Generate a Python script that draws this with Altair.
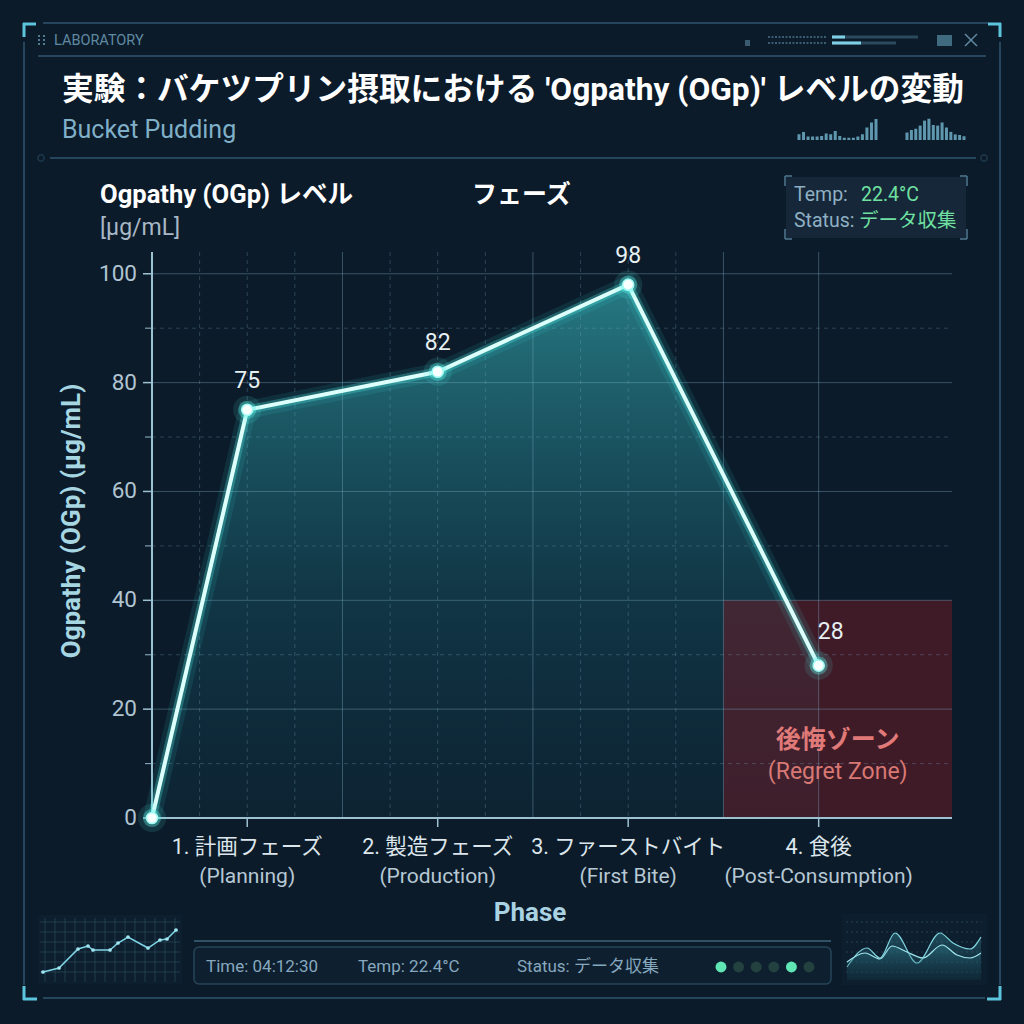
import altair as alt
import pandas as pd

FONT = "Roboto, 'Noto Sans CJK JP', 'Noto Sans', sans-serif"

# ---------------- data ----------------
phase_pos = [0, 0.5, 1.5, 2.5, 3.5]
levels = [0, 75, 82, 98, 28]
value_labels = ["", "75", "82", "98", "28"]

tick_pos = [0.5, 1.5, 2.5, 3.5]
phase_ja = ["1. 計画フェーズ", "2. 製造フェーズ", "3. ファーストバイト", "4. 食後"]
phase_en = ["(Planning)", "(Production)", "(First Bite)", "(Post-Consumption)"]

y_major = [0, 20, 40, 60, 80, 100]
y_minor = [10, 30, 50, 70, 90]
x_major = [1, 2, 3, 3.5]
x_minor = [0.25, 0.5, 0.75, 1.25, 1.5, 1.75, 2.25, 2.5, 2.75]

regret_x = [3, 4.2]
regret_y = [0, 40]

# decorative mini charts
spark_bl_x = [0, 16, 35, 45, 50, 67, 75, 85, 105, 117, 124, 133]
spark_bl_y = [10, 14, 33, 36, 32, 32, 39, 45, 34, 42, 43, 52]
spark_ra_x = [0, 20, 33, 48, 70, 93, 106, 123, 134]
spark_ra_y = [13, 32, 22, 47, 17, 47, 37, 31, 43]
spark_rb_x = [0, 18, 33, 45, 60, 76, 95, 110, 123, 134]
spark_rb_y = [18, 27, 21, 34, 28, 22, 35, 25, 22, 27]
bars1 = [23, 32, 14, 14, 14, 16, 26, 23, 36, 16, 9, 9, 9, 14, 23, 50, 70, 84]
bars2 = [12, 16, 18, 23, 31, 34, 24, 23, 28, 20, 13, 9, 8, 6]
status_dots = [1, 0, 0, 0, 1, 0]

# ---------------- geometry ----------------
X0, Y0 = 152, 252
W, H = 800, 566
XMAX, YMAX = 4.2, 104
XS = alt.Scale(domain=[0, XMAX], nice=False, zero=False, padding=0)
YS = alt.Scale(domain=[0, YMAX], nice=False, zero=False, padding=0)

EMPTY = alt.Data(values=[{}])
AXC = "#9cc2d2"


def to_x(px_expr):
    return f"(({px_expr}) - {X0}) * {XMAX} / {W}"


def to_y(py_expr):
    return f"({Y0 + H} - ({py_expr})) * {YMAX} / {H}"


def prule(x, y, x2=None, y2=None, color="#24465c", width=1, dash=None, opacity=1.0):
    enc = dict(x=alt.value(x - X0), y=alt.value(y - Y0))
    enc["x2"] = alt.value((x2 if x2 is not None else x) - X0)
    enc["y2"] = alt.value((y2 if y2 is not None else y) - Y0)
    kw = dict(color=color, strokeWidth=width, opacity=opacity)
    if dash:
        kw["strokeDash"] = dash
    return alt.Chart(EMPTY).mark_rule(**kw).encode(**enc)


def prect(x, y, x2, y2, fill, opacity=1.0, stroke=None, sw=1, radius=0):
    kw = dict(fill=fill, opacity=opacity, cornerRadius=radius)
    if stroke:
        kw["stroke"] = stroke
        kw["strokeWidth"] = sw
    return alt.Chart(EMPTY).mark_rect(**kw).encode(
        x=alt.value(x - X0), y=alt.value(y - Y0),
        x2=alt.value(x2 - X0), y2=alt.value(y2 - Y0))


def ptext(t, x, y, size, color, weight="normal", align="left", baseline="middle",
          font=FONT, angle=0):
    return alt.Chart(EMPTY).mark_text(
        text=t, fontSize=size, color=color, fontWeight=weight, align=align,
        baseline=baseline, font=font, angle=angle).encode(
        x=alt.value(x - X0), y=alt.value(y - Y0))


df = pd.DataFrame({"pos": phase_pos, "level": levels, "label": value_labels})
df_ticks = pd.DataFrame({"pos": tick_pos, "ja": phase_ja, "en": phase_en})
df_ymaj = pd.DataFrame({"v": y_major})
df_ymin = pd.DataFrame({"v": y_minor})

XE = dict(scale=XS, axis=None)
YE = dict(scale=YS, axis=None)

# ---------------- main plot ----------------
area = alt.Chart(df).mark_area(
    color=alt.Gradient(
        gradient="linear",
        stops=[alt.GradientStop(color="rgba(44,142,150,0.82)", offset=0),
               alt.GradientStop(color="rgba(22,82,98,0.48)", offset=0.6),
               alt.GradientStop(color="rgba(14,50,66,0.35)", offset=1)],
        x1=1, x2=1, y1=0, y2=1),
).encode(x=alt.X("pos:Q", **XE), y=alt.Y("level:Q", **YE))

regret = alt.Chart(pd.DataFrame({"x": [regret_x[0]], "x2": [regret_x[1]],
                                 "y": [regret_y[0]], "y2": [regret_y[1]]})).mark_rect(
    color="#6a1c26", opacity=0.55
).encode(x=alt.X("x:Q", **XE), x2="x2:Q", y=alt.Y("y:Q", **YE), y2="y2:Q")

grid_hmaj = alt.Chart(df_ymaj).mark_rule(color="#7fb0c8", opacity=0.38, strokeWidth=1).encode(
    y=alt.Y("v:Q", **YE), x=alt.value(0), x2=alt.value(W))
grid_hmin = alt.Chart(df_ymin).mark_rule(
    color="#7fb0c8", opacity=0.28, strokeWidth=1, strokeDash=[4, 4]
).encode(y=alt.Y("v:Q", **YE), x=alt.value(0), x2=alt.value(W))
grid_vmaj = alt.Chart(pd.DataFrame({"v": x_major})).mark_rule(
    color="#7fb0c8", opacity=0.38, strokeWidth=1
).encode(x=alt.X("v:Q", **XE), y=alt.value(0), y2=alt.value(H))
grid_vmin = alt.Chart(pd.DataFrame({"v": x_minor})).mark_rule(
    color="#7fb0c8", opacity=0.28, strokeWidth=1, strokeDash=[4, 4]
).encode(x=alt.X("v:Q", **XE), y=alt.value(0), y2=alt.value(H))

# axes (domain lines, ticks, labels) drawn from the same scales
y_domain = alt.Chart(EMPTY).mark_rule(color=AXC, strokeWidth=2).encode(
    x=alt.value(0), y=alt.value(0), y2=alt.value(H))
x_domain = alt.Chart(EMPTY).mark_rule(color=AXC, strokeWidth=2).encode(
    y=alt.value(H), x=alt.value(0), x2=alt.value(W))
y_ticks = alt.Chart(df_ymaj).mark_rule(color=AXC, strokeWidth=1.5).encode(
    y=alt.Y("v:Q", **YE), x=alt.value(-9), x2=alt.value(0))
y_ticks_min = alt.Chart(df_ymin).mark_rule(color=AXC, strokeWidth=1.2, opacity=0.8).encode(
    y=alt.Y("v:Q", **YE), x=alt.value(-7), x2=alt.value(0))
y_labels = alt.Chart(df_ymaj).mark_text(
    color="#b0c4d2", fontSize=22.5, font=FONT, align="right", baseline="middle"
).encode(y=alt.Y("v:Q", **YE), x=alt.value(-15), text="v:Q")
x_ticks = alt.Chart(df_ticks).mark_rule(color=AXC, strokeWidth=1.5).encode(
    x=alt.X("pos:Q", **XE), y=alt.value(H), y2=alt.value(H + 9))

regret_t1 = alt.Chart(pd.DataFrame({"x": [3.6], "y": [14.3], "t": ["後悔ゾーン"]})).mark_text(
    fontSize=25, fontWeight="bold", color="#e07a78", font=FONT
).encode(x=alt.X("x:Q", **XE), y=alt.Y("y:Q", **YE), text="t:N")
regret_t2 = alt.Chart(pd.DataFrame({"x": [3.6], "y": [8.4], "t": ["(Regret Zone)"]})).mark_text(
    fontSize=23, color="#d87874", font=FONT
).encode(x=alt.X("x:Q", **XE), y=alt.Y("y:Q", **YE), text="t:N")

enc_xy = dict(x=alt.X("pos:Q", **XE), y=alt.Y("level:Q", **YE))
glow1 = alt.Chart(df).mark_line(color="#3fe6de", strokeWidth=18, opacity=0.10).encode(**enc_xy)
glow2 = alt.Chart(df).mark_line(color="#4ff0e6", strokeWidth=9, opacity=0.28).encode(**enc_xy)
line = alt.Chart(df).mark_line(color="#dcfffb", strokeWidth=4).encode(**enc_xy)

halo1 = alt.Chart(df).mark_circle(color="#4ff0e8", size=800, opacity=0.12).encode(**enc_xy)
halo2 = alt.Chart(df).mark_circle(color="#5ff5ec", size=330, opacity=0.35).encode(**enc_xy)
pts = alt.Chart(df).mark_circle(color="#f8ffff", size=125, opacity=1, stroke="#9ffaf4",
                                strokeWidth=1.5).encode(**enc_xy)

lab_hi = alt.Chart(df).transform_filter("datum.level > 50").mark_text(
    fontSize=23, color="#e6f0f2", font=FONT, dy=-29
).encode(text="label:N", **enc_xy)
lab_lo = alt.Chart(df).transform_filter("datum.level < 50 && datum.label != ''").mark_text(
    fontSize=23, color="#e6f0f2", font=FONT, dy=-34, dx=12
).encode(text="label:N", **enc_xy)

xl_ja = alt.Chart(df_ticks).mark_text(fontSize=21.5, color="#dce6ec", font=FONT).encode(
    x=alt.X("pos:Q", **XE), y=alt.value(848 - Y0), text="ja:N")
xl_en = alt.Chart(df_ticks).mark_text(fontSize=21, color="#b6c8d4", font=FONT).encode(
    x=alt.X("pos:Q", **XE), y=alt.value(877 - Y0), text="en:N")

# ---------------- mini decorative charts (mapped onto the plot scales) ----------------
sbl = pd.DataFrame({"x": spark_bl_x, "y": spark_bl_y})
spark_bl = alt.Chart(sbl).transform_calculate(
    mx=to_x("43 + datum.x"), my=to_y("982 - datum.y")
).mark_line(color="#7fd6e6", strokeWidth=1.5,
            point=alt.OverlayMarkDef(size=14, color="#9fe6f0")).encode(
    x=alt.X("mx:Q", **XE), y=alt.Y("my:Q", **YE))

sra = pd.DataFrame({"x": spark_ra_x, "y": spark_ra_y})
srb = pd.DataFrame({"x": spark_rb_x, "y": spark_rb_y})


def spark_area(d, line_color, c0, c1):
    return alt.Chart(d).transform_calculate(
        mx=to_x("847 + datum.x"), my=to_y("980 - datum.y"), my0=to_y("980")
    ).mark_area(
        interpolate="monotone", line={"color": line_color, "strokeWidth": 1.2},
        color=alt.Gradient(gradient="linear",
                           stops=[alt.GradientStop(color=c0, offset=0),
                                  alt.GradientStop(color=c1, offset=1)],
                           x1=1, x2=1, y1=0, y2=1)
    ).encode(x=alt.X("mx:Q", **XE), y=alt.Y("my:Q", **YE), y2="my0:Q")


spark_ra = spark_area(sra, "#7fd6e0", "rgba(60,150,165,0.55)", "rgba(20,60,75,0.3)")
spark_rb = spark_area(srb, "#9fe6ee", "rgba(50,130,145,0.6)", "rgba(15,50,65,0.35)")

b1 = pd.DataFrame({"i": list(range(len(bars1))), "v": bars1})
bar1 = alt.Chart(b1).transform_calculate(
    mx=to_x(f"799 + datum.i * {77 / (len(bars1) - 1)}"),
    my=to_y("140 - datum.v * 0.25"), my0=to_y("140")
).mark_bar(color="#5f98ae", size=3).encode(
    x=alt.X("mx:Q", **XE), y=alt.Y("my:Q", **YE), y2="my0:Q")
b2 = pd.DataFrame({"i": list(range(len(bars2))), "v": bars2})
bar2 = alt.Chart(b2).transform_calculate(
    mx=to_x(f"907 + datum.i * {57 / (len(bars2) - 1)}"),
    my=to_y("140 - datum.v * 0.625"), my0=to_y("140")
).mark_bar(color="#5f98ae", size=3).encode(
    x=alt.X("mx:Q", **XE), y=alt.Y("my:Q", **YE), y2="my0:Q")

dots = pd.DataFrame({"i": list(range(len(status_dots))), "on": status_dots})
dot_chart = alt.Chart(dots).transform_calculate(
    mx=to_x("721 + datum.i * 17.6")
).mark_circle(size=120, opacity=1).encode(
    x=alt.X("mx:Q", **XE),
    y=alt.value(967 - Y0),
    color=alt.condition("datum.on == 1", alt.value("#5fe6b4"), alt.value("#23423f")))

# ---------------- frame / decorations ----------------
FR = "#25465c"
CY = "#5cc4dc"
deco = [
    prule(43, 23, 988, 23, FR, 2),
    prule(43, 998, 985, 998, FR, 2),
    prule(24, 42, 24, 985, FR, 2),
    prule(1000, 42, 1000, 985, FR, 2),
    prule(23, 24, 36, 24, CY, 3), prule(24, 23, 24, 37, CY, 3),
    prule(988, 24, 1001, 24, CY, 3), prule(1000, 23, 1000, 37, CY, 3),
    prule(23, 999, 37, 999, CY, 3), prule(24, 986, 24, 1000, CY, 3),
    prule(987, 999, 1001, 999, CY, 3), prule(1000, 986, 1000, 1000, CY, 3),
    prule(38, 56, 986, 56, FR, 2),
    prule(50, 158, 976, 158, FR, 2),
    alt.Chart(EMPTY).mark_point(shape="circle", size=40, color=FR, strokeWidth=1.5).encode(
        x=alt.value(41 - X0), y=alt.value(158 - Y0)),
    alt.Chart(EMPTY).mark_point(shape="circle", size=40, color=FR, strokeWidth=1.5).encode(
        x=alt.value(984 - X0), y=alt.value(158 - Y0)),
    prule(39, 35, 39, 47, "#4f7a92", 2, dash=[2, 2]),
    prule(44, 35, 44, 47, "#4f7a92", 2, dash=[2, 2]),
    ptext("LABORATORY", 54, 41, 14.5, "#5f8aa2"),
    prect(745, 40, 750, 46, "#3a5c70"),
    prule(768, 37, 826, 37, "#3a5c70", 2, dash=[2, 1.5]),
    prule(768, 43, 826, 43, "#3a5c70", 2, dash=[2, 1.5]),
    prule(832, 37, 918, 37, "#2c4a5e", 3), prule(832, 37, 845, 37, "#7fd0e6", 3),
    prule(832, 43, 896, 43, "#2c4a5e", 3), prule(832, 43, 861, 43, "#7fd0e6", 3),
    prect(937, 35, 952, 46, "#3f6a80"),
    prule(965, 34, 977, 46, "#5f8aa2", 1.5), prule(977, 34, 965, 46, "#5f8aa2", 1.5),
    # title
    ptext("実験：バケツプリン摂取における 'Ogpathy (OGp)' レベルの変動", 62, 90, 31.7,
          "#ffffff", weight="bold"),
    ptext("Bucket Pudding", 62, 130, 25, "#7fb0c8"),
    # upper-left labels
    ptext("Ogpathy (OGp) レベル", 100, 195, 25.6, "#ffffff", weight="bold"),
    ptext("[µg/mL]", 100, 228, 23, "#a8b8c6"),
    ptext("フェーズ", 472, 195, 25, "#ffffff", weight="bold"),
    # axis titles
    ptext("Ogpathy (OGp) (µg/mL)", 72, 521, 26, "#a6d6e2", weight="bold",
          align="center", angle=270),
    ptext("Phase", 530, 913, 26, "#a9d2e2", weight="bold", align="center"),
    # temp / status box
    prect(786, 177, 966, 238, "#16293a", opacity=0.9),
    prule(785, 176, 785, 186, "#4f7a92", 1.5), prule(785, 176, 792, 176, "#4f7a92", 1.5),
    prule(967, 176, 967, 186, "#4f7a92", 1.5), prule(960, 176, 967, 176, "#4f7a92", 1.5),
    prule(785, 229, 785, 239, "#4f7a92", 1.5), prule(785, 239, 792, 239, "#4f7a92", 1.5),
    prule(967, 229, 967, 239, "#4f7a92", 1.5), prule(960, 239, 967, 239, "#4f7a92", 1.5),
    ptext("Temp:", 794, 195, 19.5, "#8fb0c4"),
    ptext("22.4°C", 861, 195, 19.5, "#6fe0a2"),
    ptext("Status:", 794, 221, 19.5, "#8fb0c4"),
    ptext("データ収集", 859, 221, 19.5, "#6fe0a2"),
    # bottom status panel
    prule(194, 941, 831, 941, "#2f5266", 2),
    prect(194, 947, 831, 984, "#0f2030", opacity=0.9, stroke="#2a4a5e", sw=1.5, radius=5),
    ptext("Time: 04:12:30", 206, 967, 17, "#86a8be"),
    ptext("Temp: 22.4°C", 358, 967, 17, "#86a8be"),
    ptext("Status: データ収集", 517, 967, 17, "#86a8be"),
    # mini chart boxes
    prect(38, 915, 182, 984, "#0e2030", opacity=0.7),
    prect(842, 914, 987, 985, "#0e2030", opacity=0.7),
]

for gx in range(45, 180, 10):
    deco.append(prule(gx, 918, gx, 982, "#2a4a5c", 1, opacity=0.7))
for gy in range(922, 982, 10):
    deco.append(prule(40, gy, 180, gy, "#2a4a5c", 1, opacity=0.7))
for gy in range(922, 980, 10):
    deco.append(prule(846, gy, 982, gy, "#2a4a5c", 1, dash=[2, 3], opacity=0.8))

chart = alt.layer(
    *deco, area, regret, grid_hmaj, grid_hmin, grid_vmaj, grid_vmin,
    y_domain, x_domain, y_ticks, y_ticks_min, y_labels, x_ticks,
    regret_t1, regret_t2, glow1, glow2, line, halo1, halo2, pts,
    lab_hi, lab_lo, xl_ja, xl_en,
    spark_bl, spark_ra, spark_rb, bar1, bar2, dot_chart,
).properties(
    width=W, height=H, background="#0c1b2a",
    autosize=alt.AutoSizeParams(type="none"),
    padding={"left": X0, "top": Y0, "right": 1024 - X0 - W, "bottom": 1024 - Y0 - H},
).configure_view(stroke=None)

chart.save("out.html", embed_options={"renderer": "svg", "actions": False})
